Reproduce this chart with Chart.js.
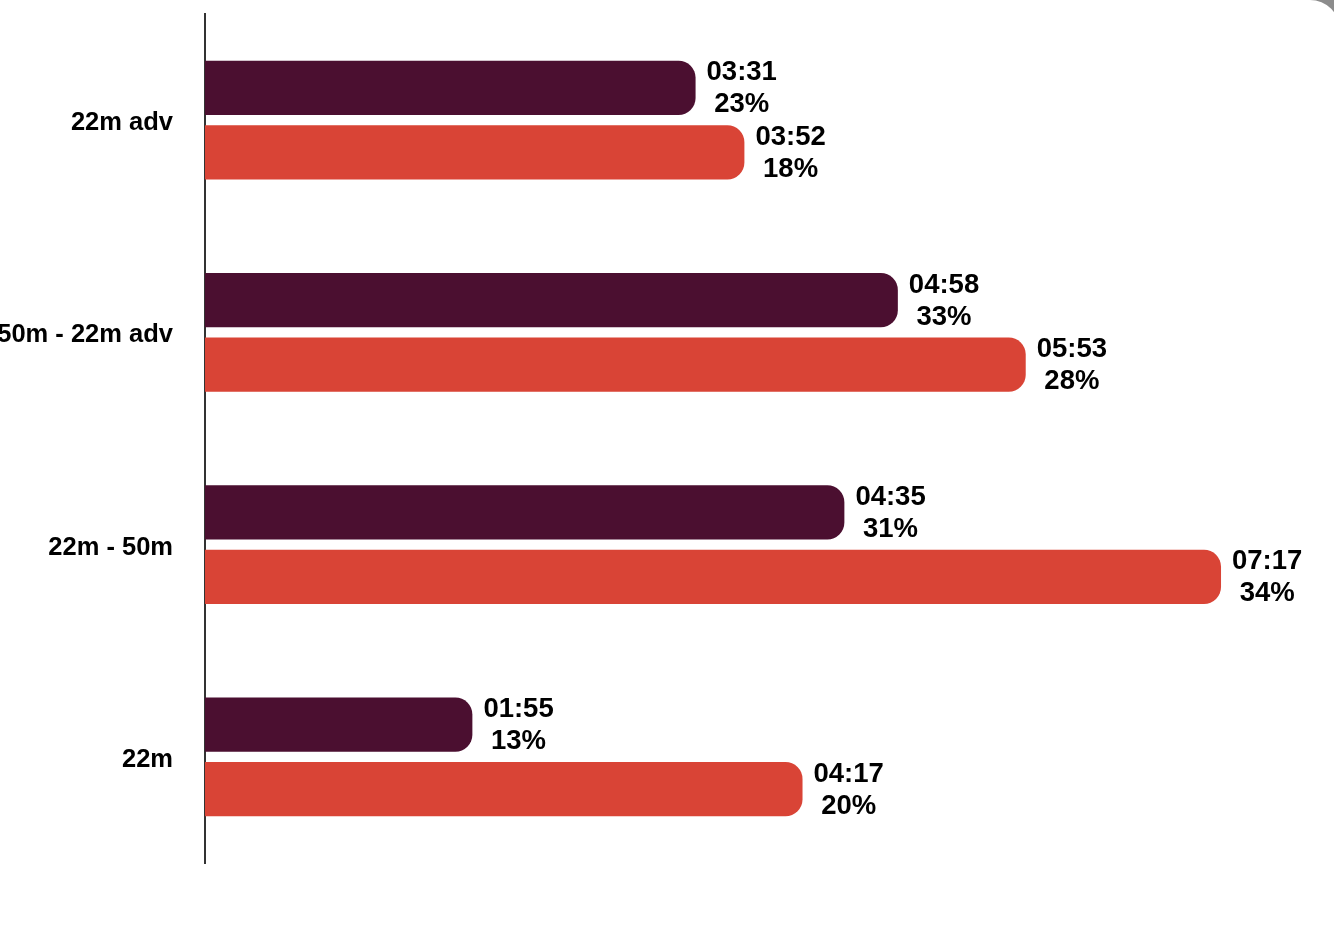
<!DOCTYPE html>
<html>
<head>
<meta charset="utf-8">
<script src="https://cdn.jsdelivr.net/npm/chart.js@4.4.0/dist/chart.umd.min.js"></script>
<style>
  html, body { margin: 0; padding: 0; background: #8c8c8c; width: 1334px; height: 936px; overflow: hidden; }
  #card { position: absolute; left: -40px; top: 0; width: 1380px; height: 1000px; background: #fff; border-top-right-radius: 30px; }
  #wrap { position: absolute; left: 0; top: 0; width: 1334px; height: 936px; }
</style>
</head>
<body>
<div id="card"></div>
<div id="wrap"><canvas id="c" width="1334" height="936"></canvas></div>
<script>
const categories = ["22m adv", "50m - 22m adv", "22m - 50m", "22m"];
const seriesA = [211, 298, 275, 115];      // seconds
const seriesB = [232, 353, 437, 257];      // seconds
const percentA = ["23%", "33%", "31%", "13%"];
const percentB = ["18%", "28%", "34%", "20%"];
const colorA = "#4b0f30";
const colorB = "#d94436";

function fmt(s) {
  const m = Math.floor(s / 60), r = s % 60;
  return String(m).padStart(2, "0") + ":" + String(r).padStart(2, "0");
}

const labelPlugin = {
  id: "barLabels",
  afterDatasetsDraw(chart) {
    const ctx = chart.ctx;
    ctx.save();
    ctx.font = "bold 27.5px 'Liberation Sans', Arial, sans-serif";
    ctx.fillStyle = "#000";
    ctx.textAlign = "center";
    ctx.textBaseline = "middle";
    chart.data.datasets.forEach((ds, di) => {
      const meta = chart.getDatasetMeta(di);
      const pcts = di === 0 ? percentA : percentB;
      meta.data.forEach((bar, i) => {
        const l1 = fmt(ds.data[i]);
        const l2 = pcts[i];
        const w = Math.max(ctx.measureText(l1).width, ctx.measureText(l2).width);
        const cx = bar.x + 11 + w / 2;
        ctx.fillText(l1, cx, bar.y - 15);
        ctx.fillText(l2, cx, bar.y + 17);
      });
    });
    ctx.restore();
  }
};

new Chart(document.getElementById("c"), {
  type: "bar",
  data: {
    labels: categories,
    datasets: [
      { data: seriesA, backgroundColor: colorA, borderRadius: 17, borderSkipped: "start",
        categoryPercentage: 0.608, barPercentage: 0.84 },
      { data: seriesB, backgroundColor: colorB, borderRadius: 17, borderSkipped: "start",
        categoryPercentage: 0.608, barPercentage: 0.84 }
    ]
  },
  options: {
    indexAxis: "y",
    responsive: false,
    animation: false,
    layout: { padding: { left: 0, top: 14, right: 13, bottom: 73 } },
    plugins: { legend: { display: false }, tooltip: { enabled: false } },
    scales: {
      x: { display: false, min: 0, max: 480 },
      y: {
        afterFit(scale) { scale.width = 205; scale.paddingTop = 0; scale.paddingBottom = 0; },
        grid: { display: false },
        border: { display: true, color: "#333", width: 2 },
        ticks: {
          color: "#000",
          padding: 24,
          labelOffset: 3,
          font: { family: "'Liberation Sans', Arial, sans-serif", size: 25.5, weight: "bold" }
        }
      }
    }
  },
  plugins: [labelPlugin]
});
</script>
</body>
</html>
